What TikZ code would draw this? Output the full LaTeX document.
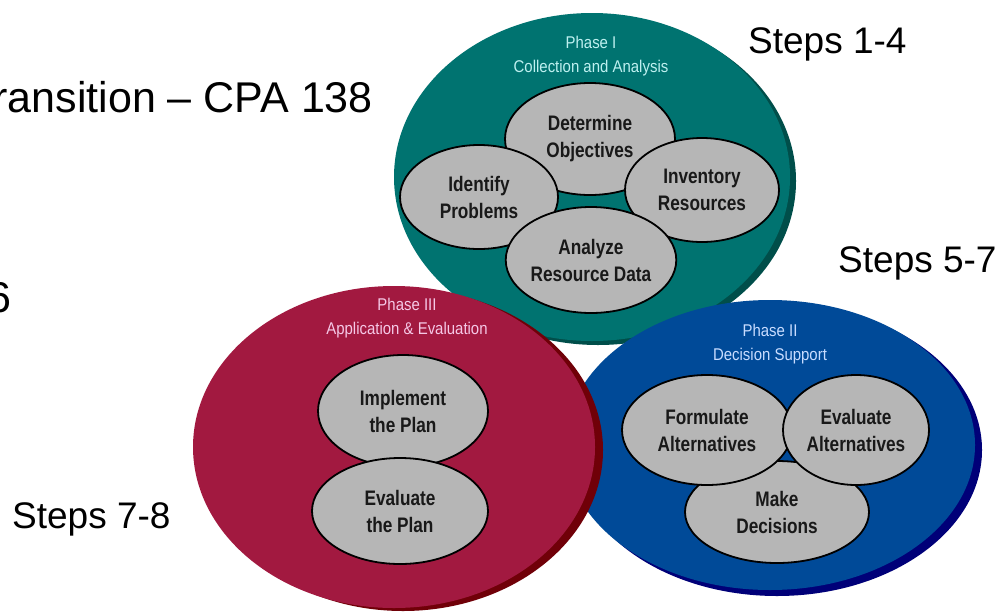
\documentclass[tikz,border=0pt]{standalone}
\usepackage{fontspec}
\setmainfont{Liberation Sans}
\newfontfamily\narrowf[FakeStretch=0.88]{Liberation Sans}
\newfontfamily\nboldf[FakeStretch=0.82]{Liberation Sans}
\usetikzlibrary{shapes.geometric}
\definecolor{tealc}{RGB}{0,115,112}
\definecolor{tealsh}{RGB}{0,78,74}
\definecolor{redc}{RGB}{162,25,64}
\definecolor{redsh}{RGB}{112,0,8}
\definecolor{bluec}{RGB}{0,74,152}
\definecolor{bluesh}{RGB}{0,0,120}
\definecolor{grayc}{RGB}{182,182,182}
\definecolor{ttlI}{RGB}{190,240,240}
\definecolor{ttlII}{RGB}{200,220,255}
\definecolor{ttlIII}{RGB}{245,200,230}
\definecolor{inkc}{RGB}{25,25,25}
\tikzset{
  stepell/.style={ellipse, draw=black, line width=1.8pt, fill=grayc, inner sep=0pt,
    text=inkc, align=center, font=\nboldf\bfseries\fontsize{21}{27}\selectfont},
  phasettl/.style={align=center, font=\narrowf\fontsize{17}{24}\selectfont},
  bigtxt/.style={font=\fontsize{43}{52}\selectfont, text=black, inner sep=0pt},
  midtxt/.style={font=\fontsize{37}{44}\selectfont, text=black, inner sep=0pt},
}
\begin{document}
\begin{tikzpicture}[x=1pt,y=-1pt]
\useasboundingbox (0,0) rectangle (1000,611);
\clip (0,0) rectangle (1000,611);
\fill[white] (0,0) rectangle (1000,611);

% Phase I (teal)
\fill[tealsh] (598,181) ellipse [x radius=198, y radius=164];
\fill[tealc] (592,177) ellipse [x radius=198, y radius=164];
% Phase II (blue)
\fill[bluesh] (777,450) ellipse [x radius=205, y radius=146];
\fill[bluec] (770,445) ellipse [x radius=205, y radius=145];
% Phase III (red)
\fill[redsh] (403,450) ellipse [x radius=200, y radius=161];
\fill[redc] (394,447) ellipse [x radius=201, y radius=161];

% Phase titles
\node[phasettl, text=ttlI] (t1) at (591,56) {Phase I\\Collection and Analysis};
\node[phasettl, text=ttlIII] (t3) at (407,318) {Phase III\\Application \& Evaluation};
\node[phasettl, text=ttlII] (t2) at (770,344) {Phase II\\Decision Support};

% Phase I steps
\node[stepell, minimum width=170, minimum height=112] (det) at (590,139) {Determine\\Objectives};
\node[stepell, minimum width=158, minimum height=104] (ide) at (479,197) {Identify\\Problems};
\node[stepell, minimum width=154, minimum height=104] (inv) at (702,190) {Inventory\\Resources};
\node[stepell, minimum width=168, minimum height=106] (ana) at (591,260) {Analyze\\Resource Data};

% Phase III steps
\node[stepell, minimum width=170, minimum height=112] (imp) at (403,411) {Implement\\the Plan};
\node[stepell, minimum width=176, minimum height=106] (evp) at (400,511) {Evaluate\\the Plan};

% Phase II steps
\node[stepell, minimum width=184, minimum height=102] (mak) at (777,512) {Make\\Decisions};
\node[stepell, minimum width=170, minimum height=110] (for) at (707,430) {Formulate\\Alternatives};
\node[stepell, minimum width=146, minimum height=110] (eva) at (856,430) {Evaluate\\Alternatives};

% Slide texts
\node[bigtxt, anchor=base east] (tr) at (373,112) {Transition -- CPA 138};
\node[bigtxt, anchor=base east] (six) at (12,312) {6};
\node[midtxt, anchor=base west] (s14) at (748,53) {Steps 1-4};
\node[midtxt, anchor=base west] (s57) at (838,272) {Steps 5-7};
\node[midtxt, anchor=base west] (s78) at (12,528) {Steps 7-8};
\end{tikzpicture}
\end{document}
